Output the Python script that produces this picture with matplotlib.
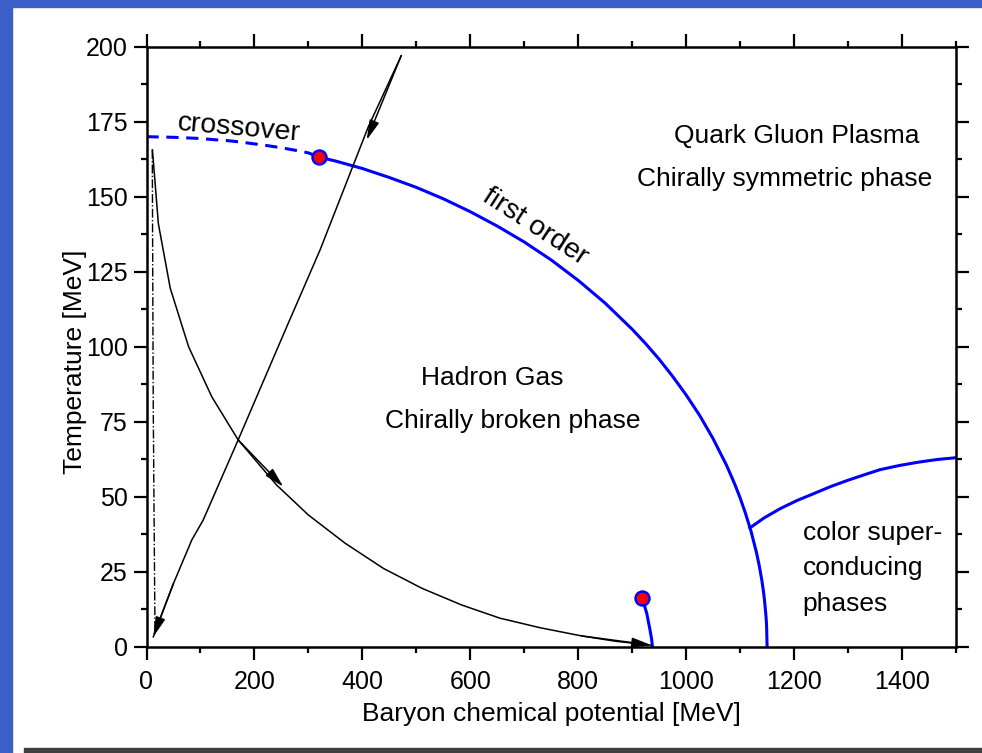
import matplotlib.pyplot as plt
from matplotlib.patches import Rectangle

plt.rcParams['font.family'] = ['Liberation Sans', 'DejaVu Sans']

# crossover (dashed) and first order (solid) boundary
mu_cross = [0, 25, 50, 75, 100, 125, 150, 175, 200, 225, 250, 275, 300, 320]
T_cross = [170, 169.9, 169.8, 169.6, 169.4, 169.0, 168.7, 168.2, 167.6, 167.0, 166.3, 165.5, 164.6, 163.2]
mu_first = [320, 350, 400, 450, 500, 550, 600, 650, 700, 750, 800, 850, 900, 925, 950, 975,
            1000, 1025, 1050, 1075, 1090, 1100, 1110, 1120, 1130, 1135, 1140, 1143, 1145, 1148, 1149, 1150]
T_first = [163.2, 161.9, 159.4, 156.4, 153.1, 149.3, 145.0, 140.2, 134.9, 128.9, 122.1, 114.5, 105.8, 101.0,
           95.8, 90.1, 83.9, 77.1, 69.3, 60.4, 54.2, 49.6, 44.4, 38.6, 31.6, 27.4, 22.4, 18.7, 15.8, 10, 7.1, 0]
# color superconducting boundary
mu_csc = [1118, 1145, 1174, 1205, 1236, 1268, 1300, 1330, 1359, 1395, 1430, 1465, 1500]
T_csc = [39.6, 43, 46, 48.7, 51, 53.4, 55.5, 57.3, 59, 60.4, 61.5, 62.4, 63]
# nuclear liquid-gas line
mu_nuc = [917.6, 923, 927, 933, 936, 937.5]
T_nuc = [16.1, 13.5, 11.1, 5.6, 2.5, 0]
crit_mu = [320, 917.6]
crit_T = [163.2, 16.1]

# trajectories
mu_traj1 = [11, 22, 44, 78, 121, 170, 241, 300, 368, 439, 510, 584, 655, 730, 806, 870, 936]
T_traj1 = [165.6, 141, 119.5, 100, 83.3, 68.9, 53.9, 43.9, 34.5, 26.1, 19.5, 13.9, 9.5, 6.3, 3.6, 1.8, 0.5]
mu_traj2 = [472, 411, 321.5, 260, 170, 105, 84, 50, 31, 12.6]
T_traj2 = [197, 173.3, 132.2, 106.7, 69, 42.2, 35.6, 21.1, 12.2, 3.3]
mu_dd = [10.7, 12.5, 15.7]
T_dd = [165.6, 80, 5]

fig = plt.figure(figsize=(9.82, 7.53), dpi=100)
fig.patches.append(Rectangle((0, 0), 12 / 982, 1, transform=fig.transFigure, color='#3a5fc8', zorder=0))
fig.patches.append(Rectangle((0, 1 - 7 / 753), 1, 7 / 753, transform=fig.transFigure, color='#3a5fc8', zorder=0))
fig.patches.append(Rectangle((24 / 982, 0), 1, 5 / 753, transform=fig.transFigure, color='#404040', zorder=0))

ax = fig.add_axes([146.5 / 982, 1 - 646.7 / 753, 809.5 / 982, 600 / 753])

ax.plot(mu_cross, T_cross, color='blue', lw=2.2, ls=(0, (4, 2.5)))
ax.plot(mu_first, T_first, color='blue', lw=2.2)
ax.plot(mu_csc, T_csc, color='blue', lw=2.2)
ax.plot(mu_nuc, T_nuc, color='blue', lw=2.2)
ax.plot(crit_mu, crit_T, 'o', ms=10, mfc='red', mec='blue', mew=1.8, zorder=5)

ax.plot(mu_traj1, T_traj1, color='k', lw=1.1)
ax.plot(mu_traj2, T_traj2, color='k', lw=1.1)
ax.plot(mu_dd, T_dd, color='k', lw=1.0, ls='-.')

arrow = dict(arrowstyle='-|>,head_length=1.2,head_width=0.3', mutation_scale=10,
             color='k', lw=1.1, shrinkA=0, shrinkB=0)
ax.annotate('', xy=(253.5, 53.3), xytext=(170, 68.9), arrowprops=arrow)
ax.annotate('', xy=(936, 0.5), xytext=(806, 3.6), arrowprops=arrow)
ax.annotate('', xy=(408, 168.9), xytext=(472, 197), arrowprops=arrow)
ax.annotate('', xy=(12.6, 3.3), xytext=(50, 21.1), arrowprops=arrow)

fs = 19
ax.text(1204, 168, 'Quark Gluon Plasma', fontsize=fs, ha='center', va='baseline')
ax.text(1182.6, 153.6, 'Chirally symmetric phase', fontsize=fs, ha='center', va='baseline')
ax.text(641.5, 87.2, 'Hadron Gas', fontsize=fs, ha='center', va='baseline')
ax.text(678.5, 73, 'Chirally broken phase', fontsize=fs, ha='center', va='baseline')
ax.text(720, 140, 'first order', fontsize=20.5, ha='center', va='center', rotation=-33,
        rotation_mode='anchor')
ax.text(171, 172.8, 'crossover', fontsize=20.5, ha='center', va='center', rotation=-5,
        rotation_mode='anchor')
for line, yb in zip(['color super-', 'conducing', 'phases'], [35.6, 23.9, 12]):
    ax.text(1216, yb, line, fontsize=fs, ha='left', va='baseline')

ax.set_xlim(0, 1500)
ax.set_ylim(0, 200)
ax.set_xticks(range(0, 1501, 200))
ax.set_xticks(range(0, 1501, 100), minor=True)
ax.set_yticks(range(0, 201, 25))
ax.set_yticks([v * 12.5 for v in range(17)], minor=True)
ax.tick_params(which='both', direction='out', top=True, right=True, width=1.6)
ax.tick_params(which='major', length=9.4, pad=4, labelsize=18)
ax.tick_params(axis='x', which='major', pad=7.2)
ax.tick_params(which='minor', length=4.3)
for s in ax.spines.values():
    s.set_linewidth(1.8)

ax.set_xlabel('Baryon chemical potential [MeV]', fontsize=fs, labelpad=6.2)
ax.set_ylabel('Temperature [MeV]', fontsize=fs)
ax.yaxis.set_label_coords(-0.0739, 0.4745)

fig.savefig('out.png', dpi=100)
